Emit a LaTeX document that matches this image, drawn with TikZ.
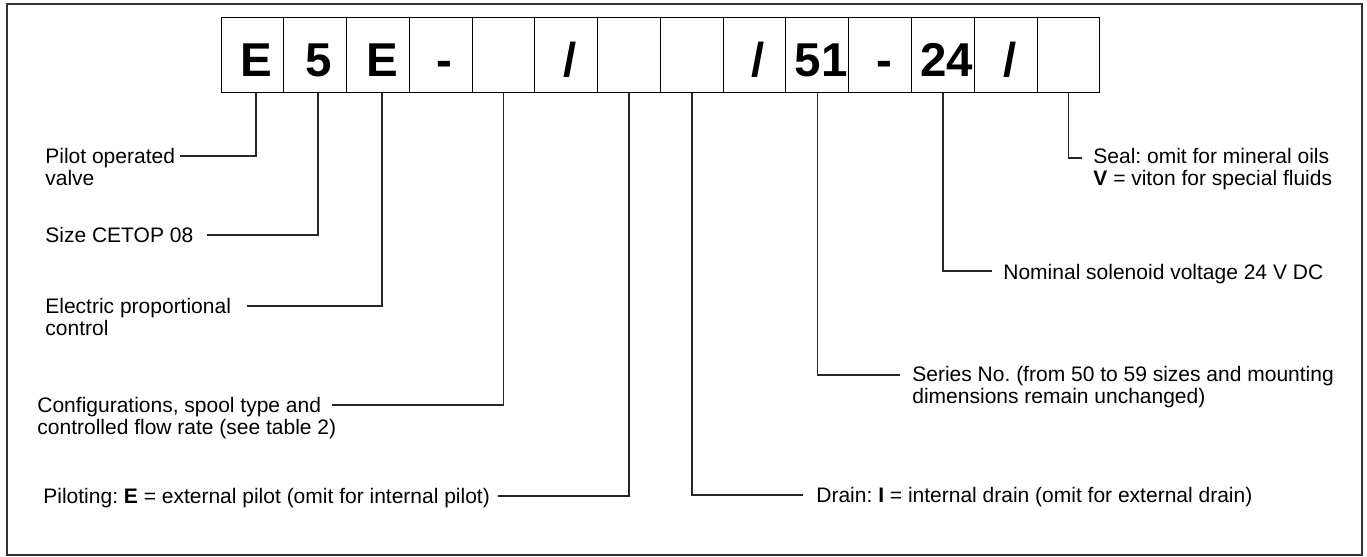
\documentclass[tikz,border=0pt]{standalone}
\usepackage{fontspec}
\setmainfont{Liberation Sans}
\frenchspacing
\newcommand\mylines[1]{\begin{tabular}[t]{@{}l@{}}#1\end{tabular}}
\begin{document}
\begin{tikzpicture}[x=0.5pt,y=-0.5pt,
  cell/.style={draw=black, line width=0.5pt, minimum width=31.385pt, minimum height=37.5pt,
    inner sep=0pt, text height=21.5pt, text depth=0pt,
    font=\fontsize{23.75pt}{24pt}\selectfont\bfseries, execute at begin node=\hspace*{4pt}},
  lab/.style={anchor=base west, inner sep=0pt, font=\fontsize{10.5pt}{11pt}\selectfont},
  lead/.style={line width=0.75pt, draw=black!85}]
\useasboundingbox (0,0) rectangle (1367,557);
\draw[line width=1pt, draw=black!80] (7,4) rectangle (1362,555);
\foreach \t [count=\i] in {E,5,E,-,{},/,{},{},/,51,-,24,/,{}}
  \node[cell] (b\i) at (252.4+62.77*\i-62.77, 54.5) {\t};
\coordinate (e1) at (180,156);
\coordinate (e2) at (207,235);
\coordinate (e3) at (247,306);
\coordinate (e5) at (332,405);
\coordinate (e7) at (498,496);
\coordinate (e8) at (803,495);
\coordinate (e10) at (900,375);
\coordinate (e12) at (992,271);
\coordinate (e14) at (1082,158);
\draw[lead] ([xshift=1.8pt]b1.south) |- (e1);
\draw[lead] ([xshift=1.4pt]b2.south) |- (e2);
\draw[lead] ([xshift=2pt]b3.south) |- (e3);
\draw[lead] (b5.south) |- (e5);
\draw[lead] (b7.south) |- (e7);
\draw[lead] (b8.south) |- (e8);
\draw[lead] (b10.south) |- (e10);
\draw[lead] (b12.south) |- (e12);
\draw[lead] (b14.south) |- (e14);
\node[lab] (l1) at (45,163) {\mylines{Pilot operated\\valve}};
\node[lab] (l2) at (45,242) {Size CETOP 08};
\node[lab] (l3) at (45,313) {\mylines{Electric proportional\\control}};
\node[lab] (l5) at (37,412) {\mylines{Configurations, spool type and\\controlled flow rate (see table 2)}};
\node[lab] (l7) at (43,503) {Piloting: \textbf{E} = external pilot (omit for internal pilot)};
\node[lab] (l8) at (816,502) {Drain: \textbf{I} = internal drain (omit for external drain)};
\node[lab] (l10) at (912,381) {\mylines{Series No. (from 50 to 59 sizes and mounting\\dimensions remain unchanged)}};
\node[lab] (l12) at (1003,279) {Nominal solenoid voltage 24 V DC};
\node[lab] (l14) at (1093,163) {\mylines{Seal: omit for mineral oils\\\textbf{V} = viton for special fluids}};
\end{tikzpicture}
\end{document}
